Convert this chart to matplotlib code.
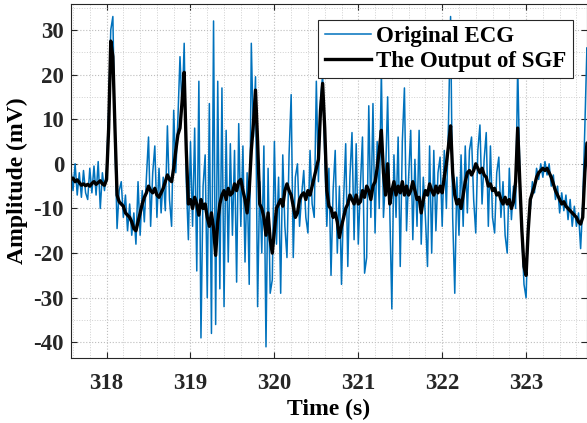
import numpy as np
import matplotlib.pyplot as plt
from matplotlib.ticker import MultipleLocator

# sampling of the traces (s)
t_start = 317.575
dt = 0.025

# noisy ECG (mV)
ecg = [
    -1, -6, 0, -7, -2, -7.5, -1.5, -6.5,
    -8, -1, -6.5, -0.5, -7, 0.5, -10, -2,
    -6, -1, 12, 30, 33, 5, -14.5, -6,
    -4, -12, -7, -15, -9, -16, -11, -18,
    -4, -16, -6, -13, -3, 6, -14, -2,
    4, -12, -1, -11, -3, -10.5, 8.5, -8,
    -14, 12, -2, 10, 24, 12, 27, -4,
    -17, 5, -14, 8, -24, 18.5, -39, -5,
    2, -30, 13.5, -38, 32, -36, 18.5, -28,
    17, -32, 7.5, -22, 4.5, -16, 3, -26.5,
    9, -14, 4, -22, -2, -27, 27, 6,
    19.5, -32, -4, -20, 4, -41, -1, -29,
    -26, 5, -18, -3, -29, 2, -14, -21,
    2, 15.5, -21, -3, 0, -14, -7, -1.5,
    -12, -15.5, 3, -9, -12, 18.5, -4, 14,
    20, 2, -14, -1, -25, -6, 3, -20,
    -5, -27, -8, 4.5, -23, -3, 7, -17,
    4.5, -18, -5, 6, -24.5, -21, 13, -12,
    13.5, -15.5, 5, -10, 21, -12, -3, 15,
    -10, -32.5, 2, -12, 6, -23, 5, 17,
    -15, -3, 7.5, -17, 1, -14, 7.5, -18,
    -3, -12, -23, 4, -20, 3, -15, -2,
    1.5, -14, 3, -10, 9, 33, -12, -29,
    -3, -16, 2, -14, 4, -11, 3, 6,
    -8, -15.5, 3, 8.7, -9, 1, 7, -14,
    4, -12, -15.5, -2, 1.5, -12, -4, -16,
    -20, -1, -12.5, -5, -10, 22, -2, -16,
    -27, -30, -13, -10, -4, -6.5, -1, -3.5,
    0, -3, 0.5, -2.5, 0, -5, -2.5, -8,
    -5, -11, -6.5, -10.5, -7, -12.5, -8, -14,
    -9.5, -14, -11, -19, -9, 8, 26, 24,
]

# Savitzky-Golay filter output (mV)
sgf = [
    -3.5, -3.2, -4.0, -3.6, -4.2, -4.8, -4.5, -4.9,
    -4.6, -5.0, -4.4, -4.0, -4.6, -4.2, -3.8, -4.5,
    -4.8, -3.5, 8, 27.5, 24, 8, -7, -8.5,
    -9, -9.5, -11, -11.5, -12, -13, -14.5, -15,
    -13, -11, -9, -7.5, -6.5, -5, -6, -6.5,
    -5.5, -7, -7.5, -6.5, -5.5, -4, -2.5, -3.5,
    -4, -1, 3, 6.5, 8, 14, 20.5, 3,
    -9, -8, -10, -7.5, -9, -11.5, -8, -10,
    -9, -12, -14, -11, -14.5, -20.5, -13, -9,
    -7, -6, -8, -5.5, -7, -6.5, -4.5, -6,
    -4, -3.5, -6, -8, -11, -6, 3, 9,
    16.5, 5, -9, -10, -12, -16, -11, -17,
    -20, -15, -10, -9, -8, -9.5, -6, -4.5,
    -6, -7, -9.5, -12, -11, -8, -7, -6.5,
    -8, -6, -7, -5, -3, -1, 1, 12,
    18, 8, -6, -9.5, -10, -12, -11, -13,
    -16.5, -14, -12, -10, -9, -7, -8, -9,
    -7, -9, -8.5, -6, -7.5, -5, -6, -8,
    -5, -4, -1, 3, 7.5, -2, -7, 0,
    -9, -6, -4, -7, -5, -6.5, -4, -7,
    -5, -7, -6, -4, -6, -8, -7.5, -11,
    -8, -6, -7, -4.5, -6, -7, -5, -6.5,
    -5, -6.5, -3, 0, 4, 8.5, -2, -7,
    -9, -8, -10, -7, -4, -2, -1.5, -2.5,
    -1.5, 0, -1, -2, -1, -2.5, -3, -5,
    -4.5, -6, -5.5, -7, -6.5, -8, -9, -7.5,
    -9, -8, -10, -8.5, -4, 8, -4, -15,
    -23, -25, -15, -8, -6.5, -5, -3, -2,
    -1.5, -1, -1.5, -1, -2, -3, -4.5, -6,
    -7, -8, -9, -8.5, -9.5, -10, -10.5, -11,
    -11.5, -12, -13, -13.5, -12, -2, 4.6, 5,
]

t = t_start + dt * np.arange(len(ecg))

plt.rcParams['font.family'] = ['Liberation Serif', 'DejaVu Serif']
plt.rcParams['font.weight'] = 'bold'
plt.rcParams['axes.labelweight'] = 'bold'
plt.rcParams['axes.unicode_minus'] = False

fig = plt.figure(figsize=(5.87, 4.23), dpi=100)
ax = fig.add_axes([71 / 587, 65 / 423, 516 / 587, 354 / 423])

ax.plot(t, ecg, color='#0072BD', lw=1.1, label='Original ECG')
ax.plot(t, sgf, color='black', lw=2.4, label='The Output of SGF')

ax.set_xlim(317.576, 323.726)
ax.set_ylim(-43.5, 35.8)
ax.xaxis.set_major_locator(MultipleLocator(1))
ax.xaxis.set_minor_locator(MultipleLocator(0.2))
ax.yaxis.set_major_locator(MultipleLocator(10))
ax.yaxis.set_minor_locator(MultipleLocator(5))
ax.grid(which='major', color='#bdbdbd', ls=':', lw=0.8)
ax.grid(which='minor', color='#d0d0d0', ls=':', lw=0.7)
ax.set_axisbelow(True)

ax.tick_params(which='major', direction='in', top=True, right=True, length=4,
               width=0.8, labelsize=16.5, colors='#262626')
ax.tick_params(which='minor', length=0)
ax.tick_params(axis='x', pad=11)
ax.tick_params(axis='y', pad=5)
for s in ax.spines.values():
    s.set_color('#262626')
    s.set_linewidth(0.8)

ax.set_xlabel('Time (s)', fontsize=17, labelpad=3)
ax.set_ylabel('Amplitude (mV)', fontsize=17, labelpad=4)

leg = ax.legend(loc='upper right', bbox_to_anchor=(0.973, 0.955), borderaxespad=0,
                fancybox=False, edgecolor='#262626', framealpha=1, fontsize=16.5,
                handlelength=2.0, handletextpad=0.25, labelspacing=0.15, borderpad=0.28)
leg.get_frame().set_linewidth(0.8)

fig.savefig('out.png', dpi=100)
